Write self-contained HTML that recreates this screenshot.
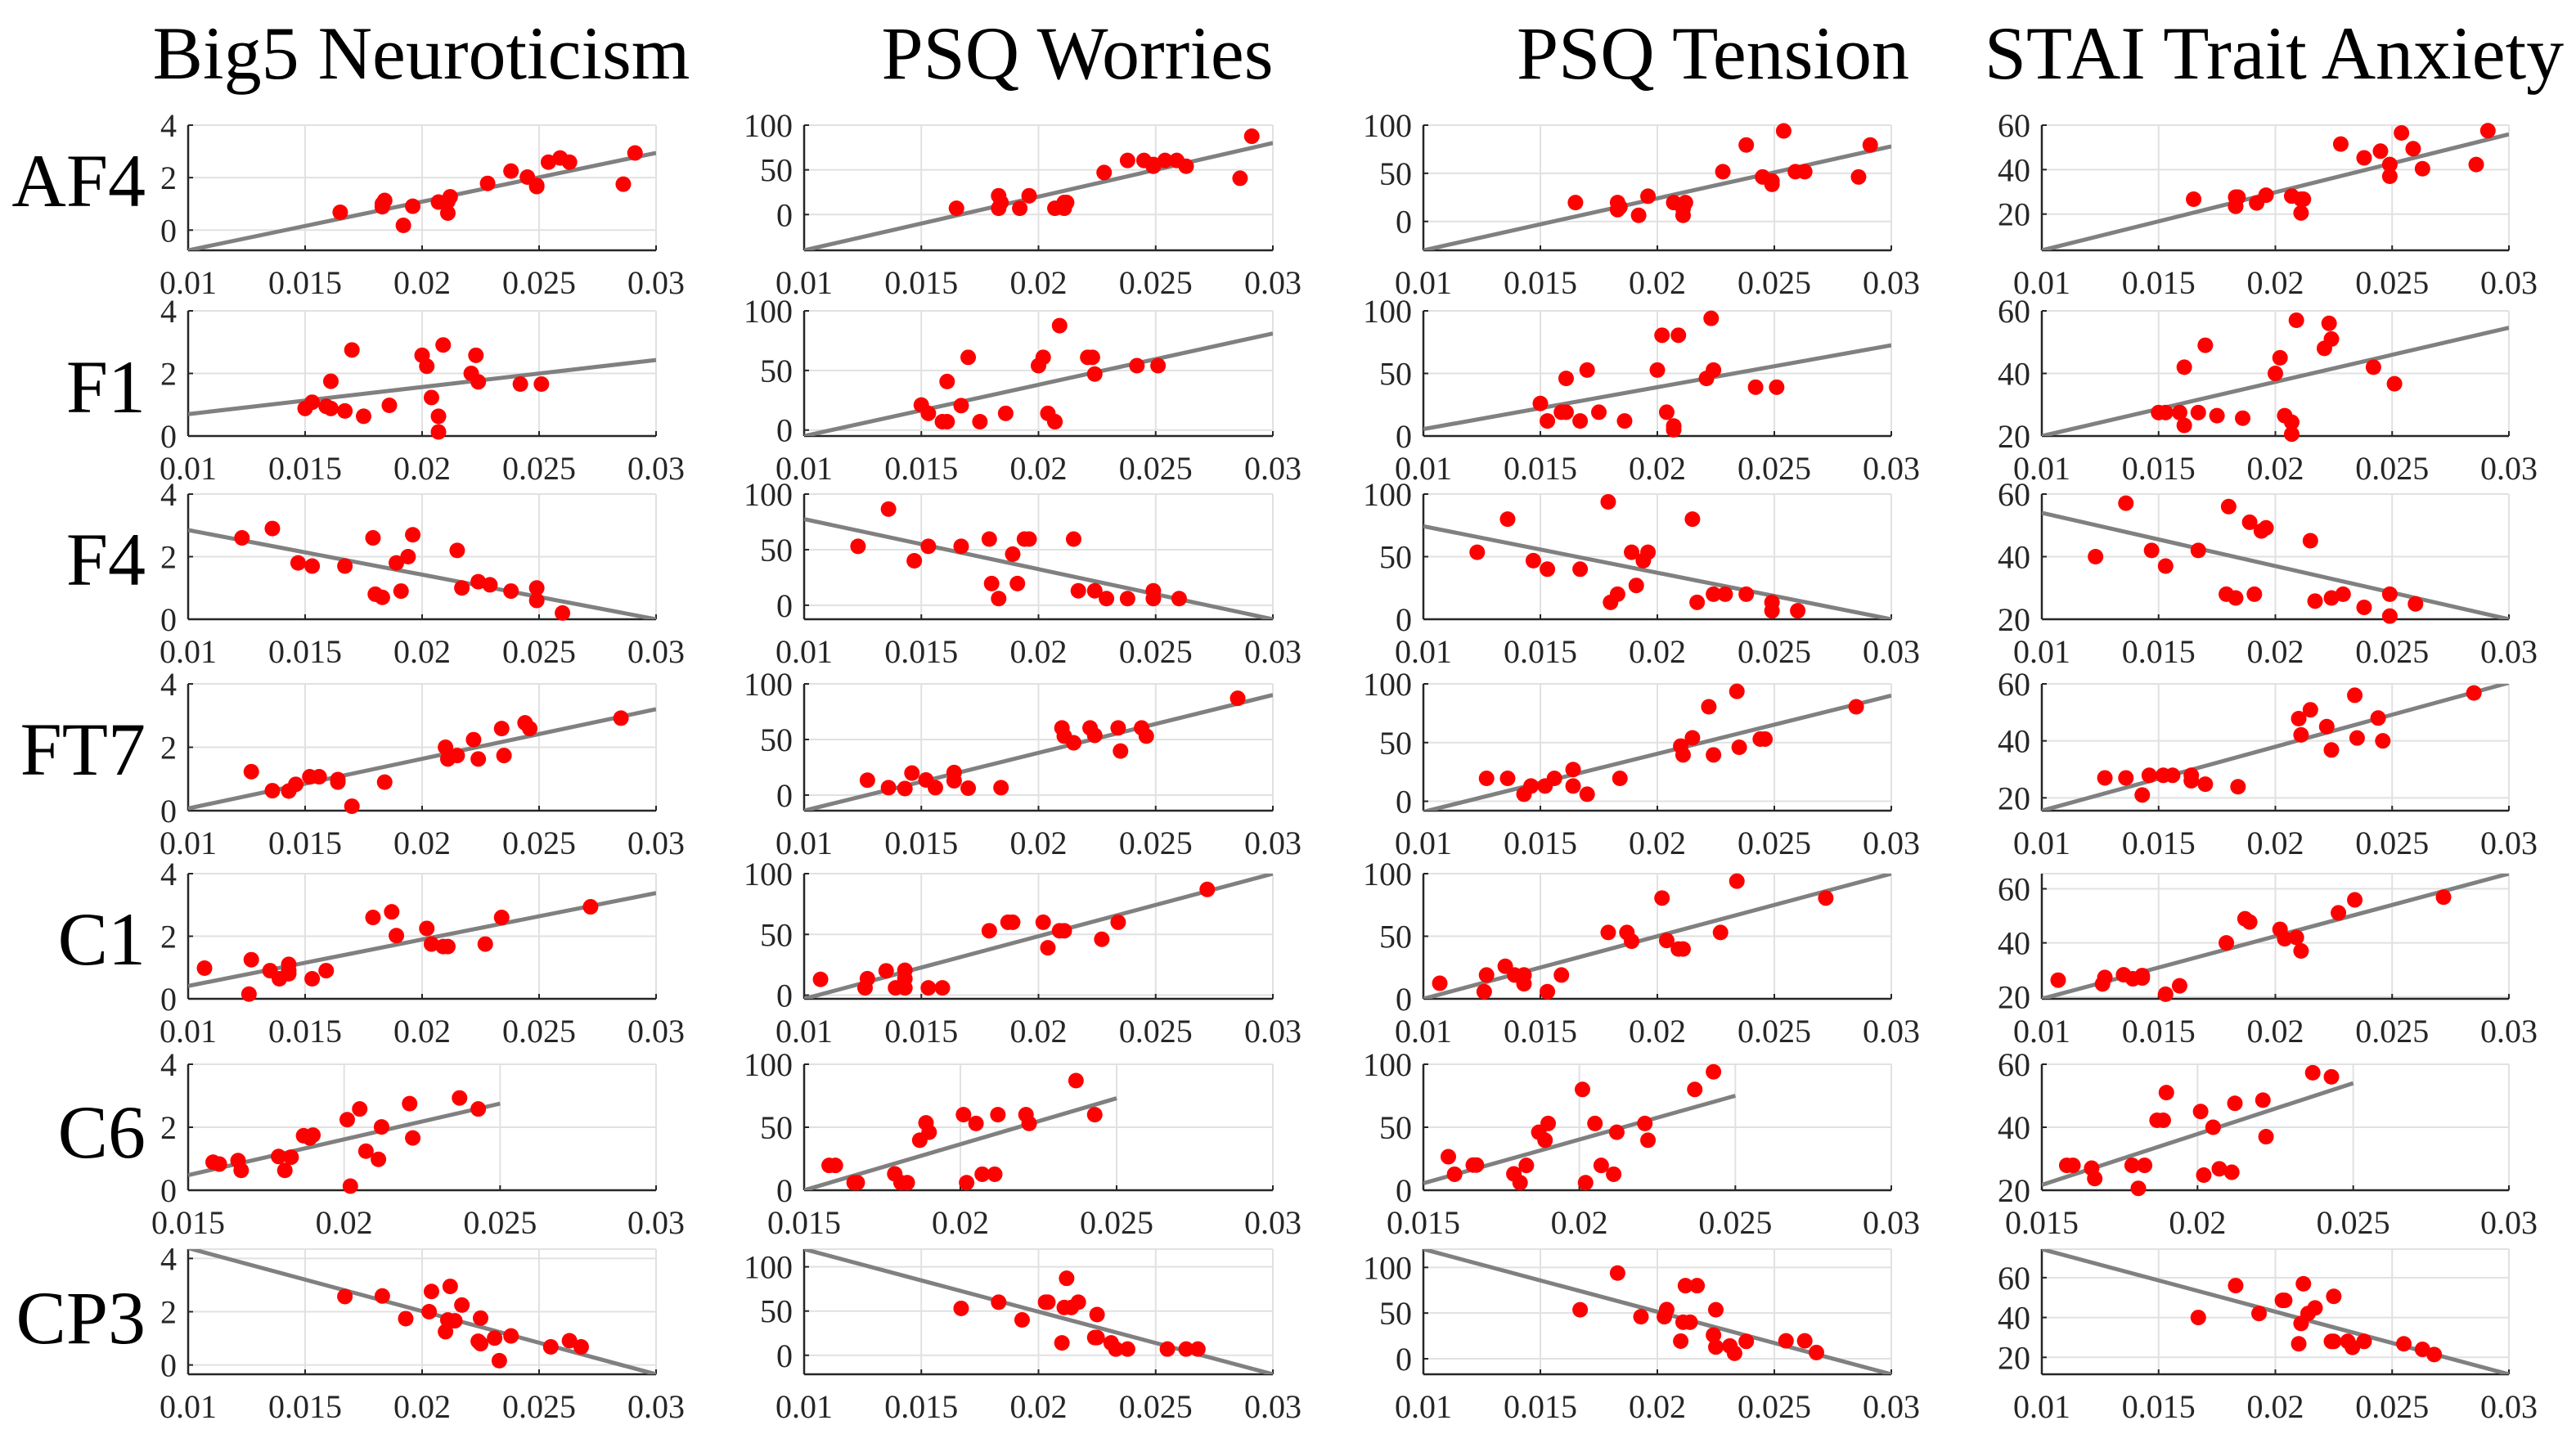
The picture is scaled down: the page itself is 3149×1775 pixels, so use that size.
<!DOCTYPE html>
<html><head><meta charset="utf-8">
<style>
html,body{margin:0;padding:0;background:#fff;}
svg{display:block;}
text{font-family:"Liberation Serif","Times New Roman",serif;}
</style></head>
<body>
<svg id="chart" xmlns="http://www.w3.org/2000/svg" width="3149" height="1775" viewBox="0 0 3149 1775"></svg>
<script>
const colTitles = ["Big5 Neuroticism","PSQ Worries","PSQ Tension","STAI Trait Anxiety"];
const rowNames = ["AF4","F1","F4","FT7","C1","C6","CP3"];

const xAF4 = [0.0165,0.0183,0.0183,0.0184,0.0192,0.0196,0.0207,0.0211,0.0211,0.0212,0.0228,0.0238,0.0245,0.0249,0.0249,0.0254,0.0259,0.0263,0.0286,0.0291];
const xF1 = [0.0150,0.0153,0.0159,0.0161,0.0161,0.0167,0.0170,0.0175,0.0186,0.0200,0.0202,0.0204,0.0207,0.0207,0.0209,0.0221,0.0223,0.0224,0.0242,0.0251];
const xF4 = [0.0123,0.0136,0.0147,0.0153,0.0167,0.0179,0.0180,0.0183,0.0189,0.0191,0.0194,0.0196,0.0215,0.0217,0.0224,0.0229,0.0238,0.0249,0.0249,0.0260];
const xFT7 = [0.0127,0.0136,0.0143,0.0146,0.0152,0.0156,0.0164,0.0164,0.0170,0.0184,0.0210,0.0211,0.0215,0.0222,0.0224,0.0234,0.0235,0.0244,0.0246,0.0285];
const xC1 = [0.0107,0.0126,0.0127,0.0135,0.0139,0.0143,0.0143,0.0143,0.0153,0.0159,0.0179,0.0187,0.0189,0.0202,0.0204,0.0209,0.0211,0.0227,0.0234,0.0272];
const xC6 = [0.0158,0.0160,0.0166,0.0167,0.0179,0.0181,0.0183,0.0187,0.0189,0.0190,0.0201,0.0202,0.0205,0.0207,0.0211,0.0212,0.0221,0.0222,0.0237,0.0243];
const xCP3 = [0.0167,0.0183,0.0193,0.0203,0.0204,0.0210,0.0212,0.0211,0.0214,0.0217,0.0225,0.0224,0.0225,0.0231,0.0233,0.0238,0.0255,0.0263,0.0268];
const xRows = [xAF4,xF1,xF4,xFT7,xC1,xC6,xCP3];

const yNeuro = [
 [0.68,0.89,1.0,1.13,0.18,0.91,1.07,0.65,1.1,1.27,1.78,2.25,2.02,1.66,1.7,2.59,2.75,2.59,1.75,2.94],
 [0.88,1.08,0.95,1.75,0.88,0.8,2.75,0.63,0.98,2.58,2.23,1.23,0.63,0.13,2.91,2.0,2.58,1.73,1.66,1.66],
 [2.6,2.9,1.8,1.7,1.7,2.6,0.8,0.7,1.8,0.9,2.0,2.7,2.2,1.0,1.2,1.1,0.9,1.0,0.6,0.2],
 [1.23,0.63,0.62,0.83,1.07,1.07,0.98,0.9,0.14,0.9,2.0,1.63,1.74,2.24,1.63,2.59,1.74,2.77,2.59,2.92],
 [0.98,0.15,1.25,0.9,0.64,1.1,0.8,0.9,0.64,0.9,2.6,2.78,2.02,2.25,1.75,1.67,1.67,1.75,2.6,2.94],
 [0.89,0.83,0.94,0.63,1.07,0.63,1.05,1.73,1.66,1.75,2.24,0.13,2.58,1.24,0.98,2.01,2.75,1.66,2.93,2.58],
 [2.57,2.59,1.74,2.0,2.76,1.25,2.95,1.69,1.66,2.25,1.76,0.89,0.8,1.01,0.16,1.09,0.68,0.91,0.68]
];
const yWorries = [
 [7,21,7,13.5,7,21,7,13.5,7,13.5,47,60.5,60.5,54,56,60.5,60.5,54,40.6,87.6],
 [21,14,7,40.7,7,20.5,61,7,14,54,61,14,7,7,87.6,61,61,47,54,54],
 [53,86.5,40,53,53,59.5,19.5,6,46,19.5,59.5,59.5,59.5,13,13,6,6,13,6,6],
 [13.4,6.7,5.9,19.8,13.6,6.7,20.3,12.9,6.2,6.7,60.4,53,47,60.4,53.7,60.4,39.6,60.4,53,87],
 [13,6,13.6,20,6,20.5,13.6,6,6,6,53,60,60,60,39,53,53,46,60,87],
 [19.7,19.7,6,6,13,6,6,39.7,53.5,46,60,6,53,12.7,12.7,60,60,53,87,60],
 [53,60,40,60,60,14,87,54,54,60,46,20,20,14,7,7,7,7,7]
];
const yTension = [
 [19.6,19.6,12.2,15,6.3,26.2,19.6,6.3,13,19.6,51.7,79.4,46.2,38.5,42,94,51.7,51.7,46.2,79.4],
 [26,12,19,46,19,12,52.7,19,12,52.7,80.5,19,5,8,80.5,46,94,52.7,39,39],
 [53.5,80,46.8,40,40,93.8,13.5,20,53.5,27,46.8,53.5,80,13.5,20,20,20,13.5,6.8,6.8],
 [19.5,19.5,6,13,13,19.5,27,13,6,19.5,47,39.5,54,80.5,39.5,93.6,46,53,53,80.5],
 [12.4,5.7,19,26,19,19,12,19,5.7,19,53,53,46,80.5,46.6,39.8,39.8,53,94,80.5],
 [26.6,12.7,20,20,13,6,19.7,46,39.7,53,80,6,53,19.7,12.7,46,53,39.7,80,94],
 [53.6,93.8,46,46,53.8,19.3,80,40,40,80,53.6,26,12.8,14,6,19,19.6,19.6,6.8]
];
const yAnxiety = [
 [26.7,27.6,23.5,27.6,25,28.5,28.1,20.5,26.7,26.7,51.5,45.3,48.3,42.3,37,56.5,49.4,40.4,42.3,57.5],
 [27.5,27.5,27.5,42,23.4,27.5,49,26.5,25.7,40,45,26.5,24.4,20.6,57,48,56,51,42,36.7],
 [40,57.1,42,37,42,28,56,26.8,51,28,48.2,49.2,45.1,25.8,26.8,28,23.8,28,21,24.9],
 [27,27,21,27.9,27.9,27.9,27.9,26,24.8,23.9,47.8,42.1,50.9,45,36.8,56,41,48,40,56.8],
 [26.2,24.8,27.2,28.2,26.7,27.9,27,27.5,21,24.1,40,48.9,47.7,45,41.5,42,37,51.1,55.9,56.9],
 [27.9,27.9,27,23.7,27.9,20.6,27.9,42.2,42.2,51,45,24.8,40,26.8,25.7,47.6,48.6,37,57.3,56],
 [40,56,42,48.6,48.6,26.8,56.9,37,42,44.8,50.6,28,28,28,25,28,26.8,24,21.4]
];
const ySeries = [yNeuro,yWorries,yTension,yAnxiety];

// fit line values [y at x start, y at x end]
const lineNeuro = [[-0.77,2.94],[0.7,2.43],[2.85,0],[0.07,3.2],[0.41,3.38],[0.48,2.75],[4.39,-0.35]];
const lineWorries = [[-40,80],[-5,81],[77.5,-12.6],[-14,90],[-3,100],[0,73],[120,-21.5]];
const lineTension = [[-30,78],[5.5,72.5],[74.3,0],[-9,90],[0,100],[5.5,75],[120,-17]];
const lineAnxiety = [[3.7,55.9],[20,54.6],[54,20],[15.5,60.4],[19.3,65.6],[21.7,54],[74.3,11.5]];
const lineSeries = [lineNeuro,lineWorries,lineTension,lineAnxiety];
const lineXStart = [0.01,0.01,0.01,0.01,0.01,0.015,0.01];
const lineXEnd = [0.03,0.03,0.03,0.03,0.03,0.025,0.03];

// axis limits
const yLimNeuro = [[-0.77,4],[0,4],[0,4],[0,4],[0,4],[0,4],[-0.35,4.35]];
const yLimWorries = [[-40,100],[-5,100],[-12.6,100],[-14,100],[-3,100],[0,100],[-21.5,120]];
const yLimTension = [[-30,100],[0,100],[0,100],[-8,100],[0,100],[0,100],[-17,120]];
const yLimAnxiety = [[3.7,60],[20,60],[20,60],[15.5,60],[19.3,65.6],[20,60],[11.5,74.3]];
const yLims = [yLimNeuro,yLimWorries,yLimTension,yLimAnxiety];
const yTickSets = [[0,2,4],[0,50,100],[0,50,100],[20,40,60]];
const xTicksMain = [0.01,0.015,0.02,0.025,0.03];
const xTicksC6 = [0.015,0.02,0.025,0.03];
const xTickLabelsMain = ["0.01","0.015","0.02","0.025","0.03"];
const xTickLabelsC6 = ["0.015","0.02","0.025","0.03"];

// layout (pixels)
const colX = [[230,802],[983,1556],[1740,2312],[2496,3067]];
const rowY = [[153,306],[380,533],[604,757],[836,991],[1068,1221],[1301,1455],[1527,1680]];
const titleX = [515,1317,2094,2780];
const rowLabelY = [252,504,715,947,1179,1415,1642];
const SERIF = '"Liberation Serif", "Times New Roman", serif';

const NS = "http://www.w3.org/2000/svg";
const svg = document.getElementById("chart");
function mk(tag, attrs, parent){
  const e = document.createElementNS(NS, tag);
  for (const k in attrs) e.setAttribute(k, attrs[k]);
  (parent||svg).appendChild(e);
  return e;
}

colTitles.forEach((t,c)=>{
  const e = mk("text",{x:titleX[c],y:96,"text-anchor":"middle","font-size":92,fill:"#000","font-family":SERIF});
  
  
  e.textContent = t;
});
rowNames.forEach((t,r)=>{
  const e = mk("text",{x:178,y:rowLabelY[r],"text-anchor":"end","font-size":92,fill:"#000","font-family":SERIF});
  
  
  e.textContent = t;
});

const defs = mk("defs",{});
for (let r=0;r<7;r++){
  for (let c=0;c<4;c++){
    const [px0,px1] = colX[c], [py0,py1] = rowY[r];
    const xd = r===5 ? [0.015,0.03] : [0.01,0.03];
    const yd = yLims[c][r];
    const sx = v => px0 + (v-xd[0])/(xd[1]-xd[0])*(px1-px0);
    const sy = v => py1 - (v-yd[0])/(yd[1]-yd[0])*(py1-py0);
    const g = mk("g",{});
    
    
    const cid = "clip"+r+"_"+c;
    const cp = mk("clipPath",{id:cid},defs);
    mk("rect",{x:px0,y:py0,width:px1-px0,height:py1-py0},cp);
    const xt = r===5 ? xTicksC6 : xTicksMain;
    const xl = r===5 ? xTickLabelsC6 : xTickLabelsMain;
    xt.forEach(v=>{
      const l = mk("line",{x1:sx(v),x2:sx(v),y1:py0,y2:py1,stroke:"#e1e1e1","stroke-width":2},g);
      
      
    });
    const yt = yTickSets[c].filter(v=>v>=yd[0]-1e-9 && v<=yd[1]+1e-9);
    yt.forEach(v=>{
      const l = mk("line",{x1:px0,x2:px1,y1:sy(v),y2:sy(v),stroke:"#e1e1e1","stroke-width":2},g);
      
      
    });
    mk("line",{x1:px0,x2:px1,y1:py0,y2:py0,stroke:"#e1e1e1","stroke-width":2},g);
    mk("line",{x1:px1,x2:px1,y1:py0,y2:py1,stroke:"#e1e1e1","stroke-width":2},g);
    const ax = mk("line",{x1:px0,x2:px1,y1:py1,y2:py1,stroke:"#262626","stroke-width":2.5},g);
    
    
    const ay = mk("line",{x1:px0,x2:px0,y1:py0,y2:py1,stroke:"#262626","stroke-width":2.5},g);
    
    
    xt.forEach((v,i)=>{
      mk("line",{x1:sx(v),x2:sx(v),y1:py1,y2:py1-6,stroke:"#262626","stroke-width":2},g);
      const t = mk("text",{x:sx(v),y:py1+53,"text-anchor":"middle","font-size":40,fill:"#262626","font-family":SERIF},g);
      
      
      t.textContent = xl[i];
    });
    yt.forEach(v=>{
      mk("line",{x1:px0,x2:px0+6,y1:sy(v),y2:sy(v),stroke:"#262626","stroke-width":2},g);
      const t = mk("text",{x:px0-14,y:sy(v)+14,"text-anchor":"end","font-size":40,fill:"#262626","font-family":SERIF},g);
      
      
      t.textContent = String(v);
    });
    const ln = lineSeries[c][r];
    const fl = mk("line",{x1:sx(lineXStart[r]),y1:sy(ln[0]),x2:sx(lineXEnd[r]),y2:sy(ln[1]),stroke:"#808080","stroke-width":5,"clip-path":"url(#"+cid+")"},g);
    
    
    const xs = xRows[r], ys = ySeries[c][r];
    for (let i=0;i<xs.length;i++){
      const p = mk("circle",{cx:sx(xs[i]),cy:sy(ys[i]),r:9.5,fill:"#ff0000"},g);
      
      
    }
  }
}
</script>
</body></html>
